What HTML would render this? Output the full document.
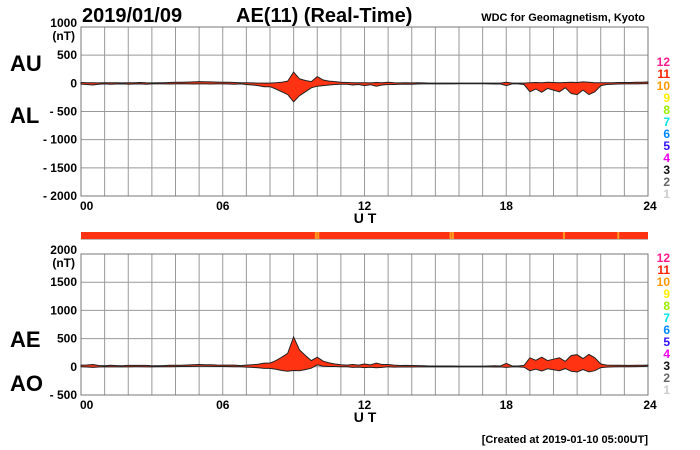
<!DOCTYPE html>
<html><head><meta charset="utf-8"><style>
html,body{margin:0;padding:0;background:#fff;}
svg{display:block;font-family:"Liberation Sans",sans-serif;font-weight:bold;}
</style></head><body>
<svg id="chart" width="700" height="450" viewBox="0 0 700 450">
<text x="82" y="22" font-size="20">2019/01/09</text>
<text x="236" y="22" font-size="20">AE(11) (Real-Time)</text>
<text x="645" y="21" font-size="11" text-anchor="end">WDC for Geomagnetism, Kyoto</text>
<text x="10" y="71" font-size="22">AU</text>
<text x="10" y="123" font-size="22">AL</text>
<text x="10" y="347" font-size="22">AE</text>
<text x="10" y="391" font-size="22">AO</text>
<text x="648" y="443" font-size="11" text-anchor="end">[Created at 2019-01-10 05:00UT]</text>
<g id="top"></g>
<g id="bar"></g>
<g id="bot"></g>
</svg>
<script>
const AU=[15,12,10,8,10,12,10,8, 10,12,15,10,8,10,12,15, 18,20,22,25,30,28,25,22, 20,18,15,12,10,8,5,5, 5,10,20,40,200,80,50,30, 120,60,40,30,20,15,10,10, 10,8,15,10,20,10,8,10, 8,10,8,5,5,5,5,5, 5,5,5,5,5,5,5,5, 20,5,5,5,10,15,10,20, 15,10,15,20,15,25,20,10, 10,10,12,15,15,15,18,20,25];
const AL=[-15,-20,-30,-15,-10,-15,-12,-10, -15,-12,-10,-15,-10,-8,-10,-12, -10,-8,-10,-12,-10,-10,-12,-10, -10,-12,-15,-10,-20,-30,-40,-60, -60,-100,-150,-200,-330,-220,-150,-80, -50,-40,-30,-20,-15,-15,-30,-20, -40,-25,-50,-30,-20,-20,-15,-15, -15,-12,-10,-10,-10,-10,-10,-10, -8,-8,-8,-8,-8,-10,-12,-10, -40,-10,-10,-20,-150,-100,-160,-90, -120,-150,-80,-180,-200,-120,-200,-150, -40,-20,-15,-12,-10,-10,-10,-8,-5];
const xTicks=["00","06","12","18","24"];
const topTicks=[1000,500,0,-500,-1000,-1500,-2000];
const botTicks=[2000,1500,1000,500,0,-500];
const stationLabels=["12","11","10","9","8","7","6","5","4","3","2","1"];
const stationColors=["#ff1a8c","#ff2200","#ff9900","#ffee00","#99ee00","#00e5e5","#0088ff","#3311ff","#ee00ee","#111111","#666666","#cccccc"];
const orangeHours=[9.9,10.0,15.6,15.7,20.4,22.7];

const NS="http://www.w3.org/2000/svg";
function mk(parent,tag,attrs){const e=document.createElementNS(NS,tag);for(const k in attrs)e.setAttribute(k,attrs[k]);parent.appendChild(e);return e;}
const X0=81,X1=648;
const xs=h=>X0+(X1-X0)*h/24;
const AE=AU.map((v,i)=>v-AL[i]);
const AO=AU.map((v,i)=>(v+AL[i])/2);

function panel(g,yTop,yBot,vMax,vMin,ticks,upper,lower,lblY){
  const ys=v=>yTop+(vMax-v)/(vMax-vMin)*(yBot-yTop);
  for(let h=0;h<=24;h++){const l=mk(g,"line",{x1:xs(h),x2:xs(h),y1:yTop,y2:yBot,stroke:"#999","stroke-width":1});
    
    }
  ticks.forEach(t=>{const l=mk(g,"line",{x1:X0,x2:X1,y1:ys(t),y2:ys(t),stroke:"#999","stroke-width":1});
    
    
    const tx=mk(g,"text",{x:77,y:ys(t)+(t===vMax?0:4),"font-size":12,"text-anchor":"end"});
    tx.textContent=t<0?"- "+(-t):String(t);
    
    });
  const nt=mk(g,"text",{x:75,y:ys(vMax)+13,"font-size":12,"text-anchor":"end"});nt.textContent="(nT)";
  
  
  const fr=mk(g,"rect",{x:X0,y:yTop,width:X1-X0,height:yBot-yTop,fill:"none",stroke:"#777"});
  
  
  const n=upper.length;let d="";
  for(let i=0;i<n;i++)d+=(i?"L":"M")+xs(i*24/(n-1)).toFixed(1)+","+ys(upper[i]).toFixed(1);
  for(let i=n-1;i>=0;i--)d+="L"+xs(i*24/(n-1)).toFixed(1)+","+ys(lower[i]).toFixed(1);
  const p=mk(g,"path",{d:d+"Z",fill:"#ff3311",stroke:"#222","stroke-width":1});
  
  
  xTicks.forEach((t,i)=>{const tx=mk(g,"text",{x:xs(i*6)-(i===0?1:(i===4?-2:0)),y:yBot+14,"font-size":12,"text-anchor":i===0?"start":"middle"});tx.textContent=t;
    
    });
  const ut=mk(g,"text",{x:365,y:yBot+27,"font-size":14,"text-anchor":"middle"});ut.textContent="U T";
  
  
  stationLabels.forEach((s,i)=>{const tx=mk(g,"text",{x:670,y:lblY+i*12,"font-size":12,"text-anchor":"end",fill:stationColors[i]});tx.textContent=s;
    
    });
}
panel(document.getElementById("top"),27,196,1000,-2000,topTicks,AU,AL,66);
panel(document.getElementById("bot"),254,395,2000,-500,botTicks,AE,AO,262);
const bar=document.getElementById("bar");
const br=mk(bar,"rect",{x:X0,y:232,width:X1-X0,height:7,fill:"#ff3311"});


const bs=mk(bar,"rect",{x:X0,y:239,width:X1-X0,height:1,fill:"#bbb"});


orangeHours.forEach(h=>{const r=mk(bar,"rect",{x:xs(h),y:232,width:2,height:7,fill:"#ff9922"});
  
  });
</script>
</body></html>
